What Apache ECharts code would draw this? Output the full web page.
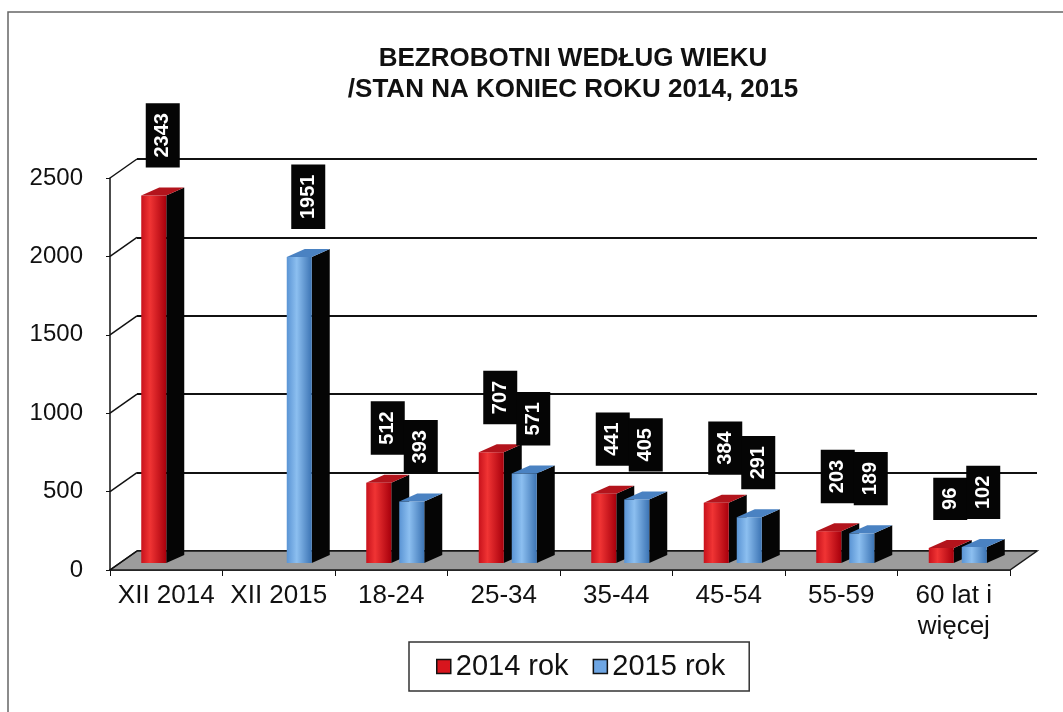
<!DOCTYPE html>
<html lang="pl">
<head>
<meta charset="UTF-8">
<title>Bezrobotni według wieku</title>
<script src="https://cdn.jsdelivr.net/npm/echarts@6/dist/echarts.min.js"></script>
<style>
  html, body { margin: 0; background: #fff; }
  #chart { width: 1063px; height: 712px; }
</style>
</head>
<body>
<div id="chart"></div>
<script>
const categories = ['XII 2014', 'XII 2015', '18-24', '25-34', '35-44', '45-54', '55-59', '60 lat i\nwięcej'];
const rok2014 = [2343, null, 512, 707, 441, 384, 203, 96];
const rok2015 = [null, 1951, 393, 571, 405, 291, 189, 102];
const yTicks = [0, 500, 1000, 1500, 2000, 2500];
const seriesNames = ['2014 rok', '2015 rok'];

// fake 3d: offset of the back wall and of the bar depth
const WALL_DX = 27, WALL_DY = -19;
const BAR_DX = 18, BAR_DY = -8, LIFT = 7;
const FONT = '"Liberation Sans", Arial, sans-serif';

const redFace = new echarts.graphic.LinearGradient(0, 0, 1, 0, [
  {offset: 0, color: '#c8121c'}, {offset: 0.35, color: '#f03434'}, {offset: 1, color: '#a8000c'}
]);
const blueFace = new echarts.graphic.LinearGradient(0, 0, 1, 0, [
  {offset: 0, color: '#5a94d4'}, {offset: 0.4, color: '#8cbff0'}, {offset: 1, color: '#3c74b4'}
]);

function toPairs(arr) {
  return arr.map((v, i) => v == null ? null : [i, v]).filter(Boolean);
}

function barRenderer(from, to, face, topColor) {
  return function (params, api) {
    const i = api.value(0), v = api.value(1);
    const c = api.coord([i, v]);
    const b = api.coord([i, 0]);
    const x0 = c[0] + from, x1 = c[0] + to;
    const yT = c[1] - LIFT, yB = b[1] - LIFT;
    const cx = (x0 + x1 + BAR_DX) / 2;
    return {
      type: 'group',
      children: [
        {type: 'polygon', shape: {points: [[x1, yB], [x1, yT], [x1 + BAR_DX, yT + BAR_DY], [x1 + BAR_DX, yB + BAR_DY]]},
          style: {fill: '#050505'}},
        {type: 'rect', shape: {x: x0, y: yT, width: x1 - x0, height: yB - yT}, style: {fill: face}},
        {type: 'polygon', shape: {points: [[x0, yT], [x1, yT], [x1 + BAR_DX, yT + BAR_DY], [x0 + BAR_DX, yT + BAR_DY]]},
          style: {fill: topColor}},
        {type: 'text', x: cx, y: yT - 18 - 10, rotation: Math.PI / 2,
          style: {text: String(v), fill: '#fff', font: 'bold 20px ' + FONT,
            align: 'left', verticalAlign: 'middle', lineHeight: 22,
            backgroundColor: '#050505', padding: [6, 10, 6, 10]}}
      ]
    };
  };
}

function frameRenderer(params, api) {
  const cs = params.coordSys;
  const left = cs.x, right = cs.x + cs.width;
  const y0 = api.coord([0, 0])[1];
  const kids = [{
    type: 'polygon',
    shape: {points: [[left, y0], [right, y0], [right + WALL_DX, y0 + WALL_DY], [left + WALL_DX, y0 + WALL_DY]]},
    style: {fill: '#9c9c9c', stroke: '#1a1a1a', lineWidth: 1.5}
  }];
  yTicks.forEach(t => {
    const y = api.coord([0, t])[1];
    kids.push({type: 'line', shape: {x1: left, y1: y, x2: left + WALL_DX, y2: y + WALL_DY},
      style: {stroke: '#111', lineWidth: 1.5}});
  });
  return {type: 'group', children: kids};
}

const chart = echarts.init(document.getElementById('chart'));
chart.setOption({
  animation: false,
  backgroundColor: '#fff',
  graphic: [{
    type: 'rect', shape: {x: 8, y: 12, width: 1100, height: 760},
    style: {fill: 'none', stroke: '#666', lineWidth: 1.5}, silent: true
  }],
  title: {
    text: 'BEZROBOTNI WEDŁUG WIEKU\n/STAN NA KONIEC ROKU 2014, 2015',
    left: 568, top: 38, textAlign: 'center',
    textStyle: {fontFamily: FONT, fontSize: 26, fontWeight: 'bold', color: '#111', lineHeight: 31}
  },
  legend: {
    left: 409, top: 642,
    icon: 'rect', itemWidth: 14, itemHeight: 14, itemGap: 24,
    padding: [10, 24, 10, 27],
    borderColor: '#333', borderWidth: 1.5,
    textStyle: {fontFamily: FONT, fontSize: 29, color: '#111'},
    data: [
      {name: seriesNames[0], itemStyle: {color: '#d8151d', borderColor: '#111', borderWidth: 1.5}},
      {name: seriesNames[1], itemStyle: {color: '#6ea6e4', borderColor: '#111', borderWidth: 1.5}}
    ]
  },
  grid: [
    {left: 110, right: 53, top: 178, bottom: 142},
    {left: 137, right: 26, top: 159, bottom: 161}
  ],
  xAxis: [{
    type: 'category', gridIndex: 0, data: categories,
    axisLine: {lineStyle: {color: '#111', width: 1.5}},
    axisTick: {show: true, length: 6, lineStyle: {color: '#111'}},
    axisLabel: {interval: 0, margin: 10, fontFamily: FONT, fontSize: 26, color: '#111', lineHeight: 31}
  }, {
    type: 'category', gridIndex: 1, data: categories, show: false
  }],
  yAxis: [{
    type: 'value', gridIndex: 0, min: 0, max: 2500, interval: 500,
    axisLine: {show: true, lineStyle: {color: '#111', width: 1.5}},
    axisTick: {show: true, length: 4, lineStyle: {color: '#111'}},
    splitLine: {show: false},
    axisLabel: {margin: 27, fontFamily: FONT, fontSize: 24, color: '#111', formatter: v => String(v)}
  }, {
    type: 'value', gridIndex: 1, min: 0, max: 2500, interval: 500,
    axisLine: {show: false}, axisTick: {show: false}, axisLabel: {show: false},
    splitLine: {show: true, lineStyle: {color: '#111', width: 2}}
  }],
  series: [{
    type: 'custom', name: 'frame', xAxisIndex: 0, yAxisIndex: 0, z: 1, silent: true,
    renderItem: frameRenderer, data: [[0, 0]]
  }, {
    type: 'custom', name: seriesNames[0], xAxisIndex: 0, yAxisIndex: 0, z: 2,
    itemStyle: {color: '#d8151d'},
    renderItem: barRenderer(-25, 0, redFace, '#b3141c'),
    encode: {x: 0, y: 1}, data: toPairs(rok2014)
  }, {
    type: 'custom', name: seriesNames[1], xAxisIndex: 0, yAxisIndex: 0, z: 2,
    itemStyle: {color: '#6ea6e4'},
    renderItem: barRenderer(8, 33, blueFace, '#4a82c2'),
    encode: {x: 0, y: 1}, data: toPairs(rok2015)
  }]
});
</script>
</body>
</html>
